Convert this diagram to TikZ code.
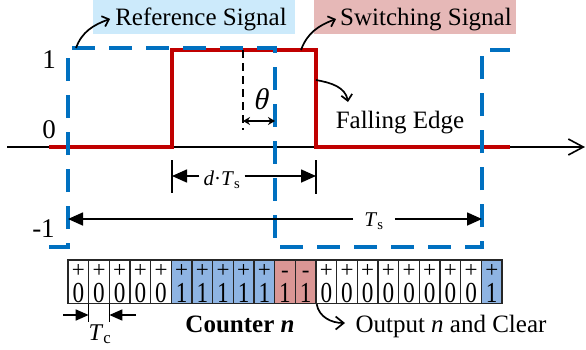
\documentclass[tikz,border=0pt]{standalone}
\usepackage{fontspec}
\usepackage{graphicx}
\setmainfont{Liberation Serif}
\newfontfamily\slantfont{Liberation Serif}[FakeSlant=0.22]
\usetikzlibrary{arrows.meta}
\definecolor{refblue}{RGB}{0,112,192}
\definecolor{swred}{RGB}{192,0,0}
\definecolor{refbg}{RGB}{204,234,251}
\definecolor{swbg}{RGB}{230,184,183}
\definecolor{cellblue}{RGB}{142,180,227}
\definecolor{cellred}{RGB}{218,150,148}
\newcommand{\celltxt}[2]{\vbox{\hbox to 20pt{\hss\fontsize{23}{23}\selectfont #1\hss}\kern 4.6pt\hbox to 20pt{\hss\fontsize{29}{29}\selectfont\scalebox{0.8}[1]{#2}\hss}}}
\tikzset{
  refline/.style={draw=refblue, line width=3.2pt, dash pattern=on 23pt off 14pt},
  swline/.style={draw=swred, line width=3.2pt},
  axisline/.style={draw=black, line width=1.6pt, -{Straight Barb[length=15pt,width=16pt]}},
  lbl/.style={font=\fontsize{25}{30}\selectfont, inner sep=0pt, anchor=base},
  numlbl/.style={font=\fontsize{27}{32}\selectfont, inner sep=0pt, anchor=base},
  mlbl/.style={font=\fontsize{21}{25}\selectfont, inner sep=0pt, anchor=base},
  callout/.style={draw=black, line width=1.7pt, -{Straight Barb[length=6pt,width=11pt]}},
  dimline/.style={draw=black, line width=1.6pt, -{Triangle[length=15pt,width=13pt]}},
  tcline/.style={draw=black, line width=1.6pt, -{Triangle[length=13pt,width=11pt]}},
  tickline/.style={draw=black, line width=2pt},
  thickdash/.style={draw=black, line width=2.2pt, dash pattern=on 8pt off 5pt},
  cellbox/.style={draw=black!85, line width=1.3pt, minimum width=20.67pt, minimum height=43.5pt, inner sep=0pt},
  celllbl/.style={inner sep=0pt, anchor=base},
  bgbox/.style={inner sep=0pt, anchor=north west},
}
\begin{document}
\begin{tikzpicture}[x=1pt,y=1pt]
\useasboundingbox (0,0) rectangle (586,-349);

% label boxes
\node[bgbox, fill=refbg, minimum width=202pt, minimum height=34pt] (refbox) at (93,0) {};
\node[bgbox, fill=swbg, minimum width=202pt, minimum height=34pt] (swbox) at (314,0) {};
\node[lbl] (reftxt) at (201,-25) {Reference Signal};
\node[lbl] (swtxt) at (426,-25) {Switching Signal};

% axis
\coordinate (axs) at (7,-147);
\coordinate (axe) at (585,-147);
\draw[axisline] (axs) -- (axe);

% switching signal
\coordinate (w0) at (49,-147);
\coordinate (w1) at (172,-147);
\coordinate (w2) at (172,-50);
\coordinate (w3) at (316,-50);
\coordinate (w4) at (316,-147);
\coordinate (w5) at (510,-147);
\draw[swline] (w0) -- (w1) -- (w2) -- (w3) -- (w4) -- (w5);

% reference signal
\coordinate (r0) at (49,-247);
\coordinate (r1) at (68,-247);
\coordinate (r2) at (68,-48);
\coordinate (r3) at (275,-48);
\coordinate (r4) at (275,-247);
\coordinate (r5) at (482,-247);
\coordinate (r6) at (482,-50);
\coordinate (r7) at (510,-50);
\draw[refline] (r0) -- (r1) -- (r2) -- (r3) -- (r4) -- (r5) -- (r6) -- (r7);

% level labels
\node[numlbl] (one) at (49,-68) {1};
\node[numlbl] (zero) at (49,-138) {0};
\node[numlbl] (mone) at (43.5,-237) {-1};

% theta
\coordinate (th1) at (243,-50);
\coordinate (th2) at (243,-130);
\draw[thickdash] (th1) -- (th2);
\coordinate (ta) at (243,-121);
\coordinate (tb) at (275,-121);
\draw[draw=black, line width=1.6pt, {Stealth[length=7pt,width=8pt]}-{Stealth[length=7pt,width=8pt]}] (ta) -- (tb);
\node[font=\fontsize{30}{34}\selectfont\slantfont, inner sep=0pt, anchor=base] (theta) at (260,-109) {θ};

% callouts
\coordinate (c1s) at (76,-48);
\draw[callout] (c1s) to[out=70,in=200] ([xshift=-5pt]reftxt.west);
\coordinate (c2s) at (301,-50);
\draw[callout] (c2s) to[out=70,in=200] ([xshift=-4pt]swtxt.west);
\node[lbl] (fetxt) at (400,-128) {Falling Edge};
\coordinate (c3s) at (316,-80);
\coordinate (c3e) at (348,-102);
\draw[callout] (c3s) to[out=-10,in=100] (c3e);

% d Ts dimension
\coordinate (dLt) at (172,-160);
\coordinate (dLb) at (172,-193);
\coordinate (dRt) at (316,-160);
\coordinate (dRb) at (316,-194);
\draw[tickline] (dLt) -- (dLb);
\draw[tickline] (dRt) -- (dRb);
\node[mlbl, inner xsep=4pt] (dts) at (222,-185) {\textit{d}·\textit{T}\textsubscript{s}};
\coordinate (dL) at (172,-176);
\coordinate (dR) at (316,-176);
\draw[dimline] (dts.west |- dL) -- (dL);
\draw[dimline] (dts.east |- dR) -- (dR);

% Ts dimension
\node[mlbl, inner xsep=11pt] (ts) at (374,-226) {\textit{T}\textsubscript{s}};
\coordinate (tL) at (68,-219);
\coordinate (tR) at (482,-219);
\draw[dimline] (ts.west |- tL) -- (tL);
\draw[dimline] (ts.east |- tR) -- (tR);

% counter cells
\foreach \i/\s/\d/\c in {1/+/0/white,2/+/0/white,3/+/0/white,4/+/0/white,5/+/0/white,
  6/+/1/cellblue,7/+/1/cellblue,8/+/1/cellblue,9/+/1/cellblue,10/+/1/cellblue,
  11/-/1/cellred,12/-/1/cellred,
  13/+/0/white,14/+/0/white,15/+/0/white,16/+/0/white,17/+/0/white,18/+/0/white,19/+/0/white,20/+/0/white,
  21/+/1/cellblue}{
  \node[cellbox, fill=\c] (cell\i) at ({68+20.67*(\i-0.5)},-281.75) {};
  \node[celllbl] (ct\i) at ([yshift=-20.5pt]cell\i.center) {\celltxt{\s}{\d}};
}

% Tc dimension
\coordinate (k1t) at (88.67,-303.5);
\coordinate (k1b) at (88.67,-322);
\coordinate (k2t) at (109.34,-303.5);
\coordinate (k2b) at (109.34,-322);
\draw[tickline, line width=1.5pt] (k1t) -- (k1b);
\draw[tickline, line width=1.5pt] (k2t) -- (k2b);
\coordinate (tca) at (63,-315);
\coordinate (tcb) at (88.67,-315);
\coordinate (tcc) at (136,-315);
\coordinate (tcd) at (109.34,-315);
\draw[tcline] (tca) -- (tcb);
\draw[tcline] (tcc) -- (tcd);
\node[mlbl, font=\fontsize{24}{28}\selectfont] (tc) at (100,-340) {\textit{T}\textsubscript{c}};

% counter label and output
\node[lbl] (cnt) at (240,-332) {\textbf{Counter \textit{n}}};
\node[lbl] (outtxt) at (451,-332) {Output \textit{n} and Clear};
\coordinate (oe) at (345,-323);
\draw[callout, -{Straight Barb[length=8pt,width=13pt]}] (cell12.south east) to[out=-80,in=180] (oe);
\end{tikzpicture}
\end{document}
